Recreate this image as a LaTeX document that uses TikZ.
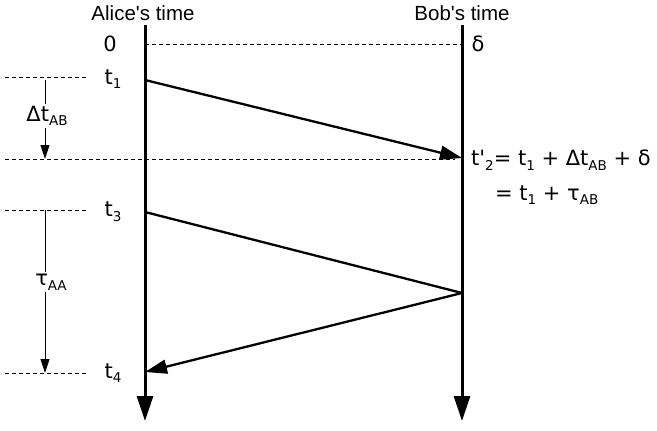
\documentclass[tikz,border=0pt]{standalone}
\usepackage{fontspec}
\newfontfamily\dv{DejaVu Sans}
\newfontfamily\ls{Liberation Sans}
\usetikzlibrary{arrows.meta}
\newcommand{\sub}[1]{\raisebox{-0.4ex}{\fontsize{13.5}{13.5}\selectfont #1}}
\begin{document}
\begin{tikzpicture}[x=1pt,y=-1pt,
  axis/.style={line width=3pt,-{Triangle[length=25pt,width=16pt]}},
  msg/.style={line width=2.3pt},
  msgarrow/.style={line width=2.3pt,-{Triangle[length=22pt,width=14pt]}},
  guide/.style={line width=0.8pt,dash pattern=on 4pt off 3pt},
  span/.style={line width=1pt,-{Triangle[length=14pt,width=9pt]}},
  lbl/.style={font=\dv\fontsize{21}{25}\selectfont,inner sep=1pt},
  ttl/.style={font=\ls\fontsize{20.5}{24}\selectfont,inner sep=1pt}]
\useasboundingbox (0,0) rectangle (657,431);
% axes
\coordinate (atop) at (145,25);
\coordinate (abot) at (145,421);
\coordinate (btop) at (462,25);
\coordinate (bbot) at (462,421);
\draw[axis] (atop) -- (abot);
\draw[axis] (btop) -- (bbot);
\node[ttl] (atitle) at (143,13) {Alice's time};
\node[ttl] (btitle) at (462,13) {Bob's time};
% events
\coordinate (a0) at (145,44);
\coordinate (b0) at (462,44);
\coordinate (a1) at (145,80);
\coordinate (b2) at (462,158);
\coordinate (a3) at (145,212);
\coordinate (b3) at (462,293);
\coordinate (a4) at (145,372);
% guides
\draw[guide] (a0) -- (b0);
\coordinate (g1l) at (5,77); \coordinate (g1r) at (88,77);
\draw[guide] (g1l) -- (g1r);
\coordinate (g2l) at (5,159); \coordinate (g2r) at (455,159);
\draw[guide] (g2l) -- (g2r);
\coordinate (g3l) at (5,210); \coordinate (g3r) at (88,210);
\draw[guide] (g3l) -- (g3r);
\coordinate (g4l) at (5,373); \coordinate (g4r) at (88,373);
\draw[guide] (g4l) -- (g4r);
% messages
\draw[msgarrow] (a1) -- (b2);
\draw[msg] (a3) -- (b3);
\draw[msgarrow] (b3) -- (a4);
% labels
\node[lbl] (l0) at (110,44) {0};
\node[lbl] (ld) at (478,44) {δ};
\node[lbl] (l1) at (113,79) {t\sub{1}};
\node[lbl] (l3) at (113,212) {t\sub{3}};
\node[lbl] (l4) at (113,373) {t\sub{4}};
\node[lbl,anchor=west] (l2) at (470,160) {t'\sub{2}= t\sub{1} + Δt\sub{AB} + δ};
\node[lbl,anchor=west] (l2b) at (494,195) {= t\sub{1} + τ\sub{AB}};
% spans
\coordinate (s1t) at (45,80); \coordinate (s1b) at (45,159);
\node[lbl,fill=white,inner sep=2pt] (dt) at (47,116) {Δt\sub{AB}};
\draw[line width=1pt] (s1t) -- (s1t|-dt.north);
\draw[span] (s1t|-dt.south) -- (s1b);
\coordinate (s2t) at (45,210); \coordinate (s2b) at (45,373);
\node[lbl,fill=white,inner sep=2pt] (ta) at (51,282) {τ\sub{AA}};
\draw[line width=1pt] (s2t) -- (s2t|-ta.north);
\draw[span] (s2t|-ta.south) -- (s2b);
\end{tikzpicture}
\end{document}
